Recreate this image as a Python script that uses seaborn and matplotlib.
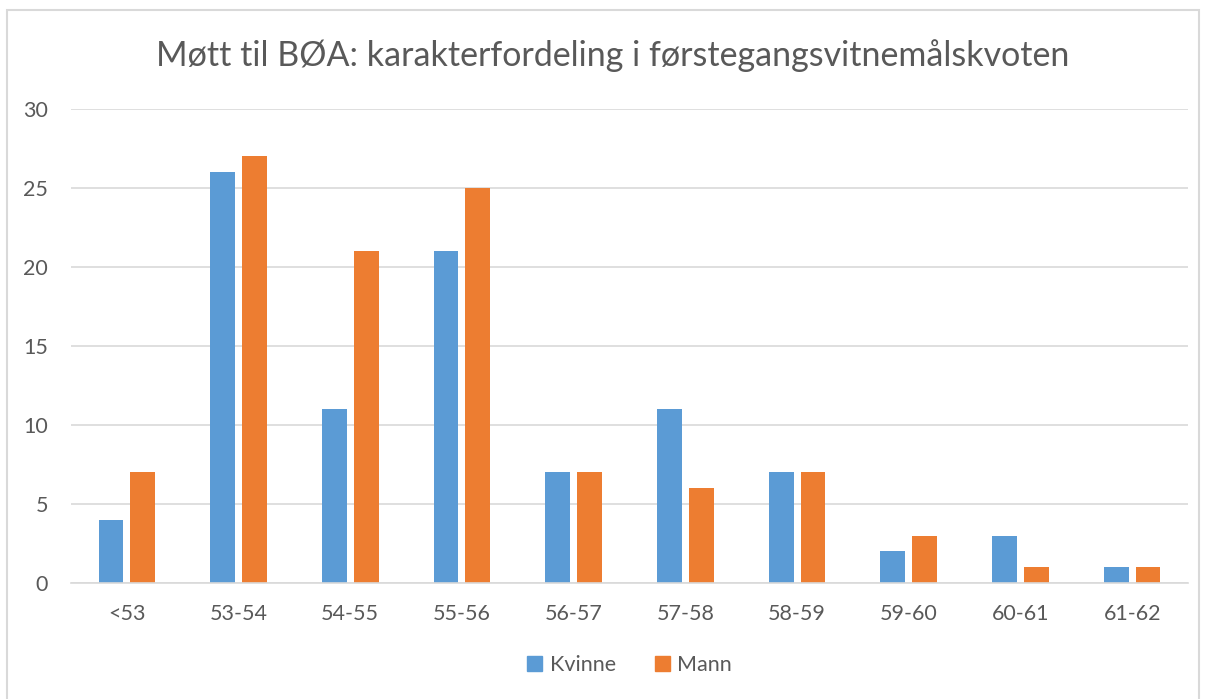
import matplotlib
matplotlib.use("Agg")
import matplotlib.pyplot as plt
import seaborn as sns
import pandas as pd
from matplotlib.patches import Rectangle

categories = ["<53", "53-54", "54-55", "55-56", "56-57", "57-58", "58-59", "59-60", "60-61", "61-62"]
kvinne = [4, 26, 11, 21, 7, 11, 7, 2, 3, 1]
mann = [7, 27, 21, 25, 7, 6, 7, 3, 1, 1]
series_names = ["Kvinne", "Mann"]
yticks = [0, 5, 10, 15, 20, 25, 30]
title = "Møtt til BØA: karakterfordeling i førstegangsvitnemålskvoten"

df = pd.DataFrame({
    "kategori": categories * 2,
    "antall": kvinne + mann,
    "kjønn": [series_names[0]] * len(categories) + [series_names[1]] * len(categories),
})

sns.set_theme(style="white")
plt.rcParams["font.family"] = ["Lato", "DejaVu Sans"]
txt = "#595959"

fig = plt.figure(figsize=(12.06, 6.99), dpi=100)
ax = fig.add_axes([71 / 1206, 1 - 583 / 699, (1188 - 71) / 1206, (583 - 109) / 699])

sns.barplot(data=df, x="kategori", y="antall", hue="kjønn", order=categories,
            hue_order=series_names, palette=["#5B9BD5", "#ED7D31"],
            width=0.57, gap=0.22, ax=ax, legend=False, saturation=1, linewidth=0)

ax.set_ylim(0, 30)
ax.set_yticks(yticks)
ax.set_xlim(-0.5, len(categories) - 0.5)
ax.yaxis.grid(True, color="#D9D9D9", linewidth=1.2)
ax.set_axisbelow(True)
for s in ["top", "right", "left"]:
    ax.spines[s].set_visible(False)
ax.spines["bottom"].set_color("#D9D9D9")
ax.spines["bottom"].set_linewidth(1.2)
ax.set_xlabel("")
ax.set_ylabel("")
ax.tick_params(axis="both", length=0, labelsize=15.5, colors=txt)
ax.tick_params(axis="y", pad=16.5)
ax.tick_params(axis="x", pad=15)

fig.text(0.5 * (71 + 1188) / 1206 - 0.014, 1 - 56 / 699, title, ha="center", va="center",
         fontsize=24.5, color=txt)

handles = [Rectangle((0, 0), 1, 1, color="#5B9BD5"), Rectangle((0, 0), 1, 1, color="#ED7D31")]
fig.legend(handles, series_names, loc="center", bbox_to_anchor=(0.5 * (71 + 1188) / 1206, 1 - 665 / 699),
           ncol=2, frameon=False, fontsize=15.5, labelcolor=txt, handlelength=0.7, handleheight=0.7,
           handletextpad=0.35, columnspacing=1.8)

fig.add_artist(Rectangle((7 / 1206, -0.01), (1199 - 7) / 1206, 1 - 10 / 699 + 0.01,
                         transform=fig.transFigure, fill=False, edgecolor="#D9D9D9", linewidth=1.5))

fig.savefig("out.png", dpi=100)
